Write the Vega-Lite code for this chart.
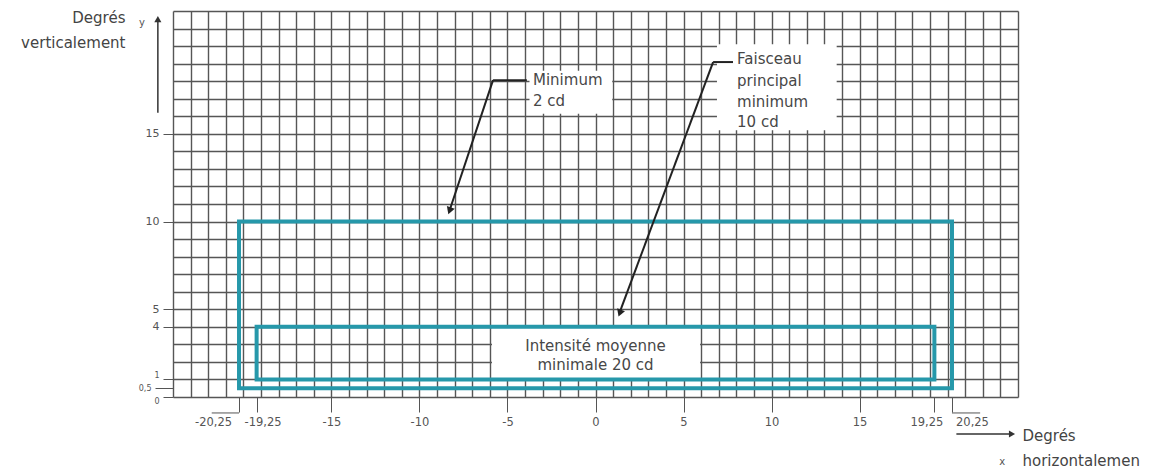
{
  "$schema": "https://vega.github.io/schema/vega-lite/v6.json",
  "width": 845,
  "height": 386,
  "autosize": {"type": "none"},
  "padding": {"left": 173, "top": 11, "right": 143, "bottom": 71},
  "background": "#ffffff",
  "config": {
    "view": {"stroke": null},
    "font": "DejaVu Sans",
    "axis": {"labelFont": "DejaVu Sans", "titleFont": "DejaVu Sans", "labelColor": "#555555", "tickColor": "#555555", "titleColor": "#444444", "titleFontWeight": "normal"}
  },
  "datasets": {
    "zones": [
      {"zone": "outer", "xa": -20.25, "xb": 20.25, "ya": 0.5, "yb": 10},
      {"zone": "inner", "xa": -19.25, "xb": 19.25, "ya": 1, "yb": 4}
    ],
    "boxes": [
      {"box": "Minimum", "xa": -3.75, "xb": 0.95, "ya": 16.15, "yb": 18.6},
      {"box": "Faisceau", "xa": 6.9, "xb": 13.7, "ya": 15.2, "yb": 20.1},
      {"box": "Intensite", "xa": -5.88, "xb": 5.94, "ya": 1, "yb": 4}
    ],
    "segments": [
      {"kind": "leader", "xa": -3.9, "ya": 18.06, "xb": -5.82, "yb": 18.06},
      {"kind": "leader", "xa": -5.82, "ya": 18.06, "xb": -8.3, "yb": 10.6},
      {"kind": "leader", "xa": 7.81, "ya": 19.09, "xb": 6.68, "yb": 19.09},
      {"kind": "leader", "xa": 6.68, "ya": 19.09, "xb": 1.4, "yb": 4.9},
      {"kind": "axis", "xa": -24.86, "ya": 16.2, "xb": -24.86, "yb": 21.5},
      {"kind": "axis", "xa": 20.5, "ya": -2.11, "xb": 23.5, "yb": -2.11},
      {"kind": "bracket", "xa": -21.8, "ya": -0.91, "xb": -20.25, "yb": -0.91},
      {"kind": "bracket", "xa": 20.25, "ya": -0.91, "xb": 21.85, "yb": -0.91}
    ],
    "heads": [
      {"kind": "leader", "x": -8.29, "y": 10.61},
      {"kind": "leader", "x": 1.38, "y": 4.78},
      {"kind": "yaxis", "x": -24.86, "y": 21.54},
      {"kind": "xaxis", "x": 23.66, "y": -2.11}
    ],
    "notes": [
      {"group": "left", "text": "Minimum", "x": -3.55, "y": 18.06},
      {"group": "left", "text": "2 cd", "x": -3.55, "y": 16.86},
      {"group": "left", "text": "Faisceau", "x": 8.04, "y": 19.26},
      {"group": "left", "text": "principal", "x": 8.04, "y": 18.0},
      {"group": "left", "text": "minimum", "x": 8.04, "y": 16.8},
      {"group": "left", "text": "10 cd", "x": 8.04, "y": 15.66},
      {"group": "center", "text": "Intensité moyenne", "x": 0, "y": 2.91},
      {"group": "center", "text": "minimale 20 cd", "x": 0, "y": 1.83},
      {"group": "small", "text": "y", "x": -25.77, "y": 21.3},
      {"group": "small", "text": "x", "x": 23.1, "y": -3.7}
    ]
  },
  "resolve": {"axis": {"x": "independent", "y": "independent"}},
  "layer": [
    {
      "data": {"name": "boxes"},
      "mark": {"type": "rect", "color": "#ffffff"},
      "encoding": {
        "x": {"field": "xa", "type": "quantitative", "scale": {"domain": [-24, 24], "nice": false, "zero": false},
          "axis": {"orient": "bottom", "grid": true, "labels": false, "ticks": false, "domain": false, "title": null, "gridColor": "#565656", "gridWidth": 1.4,
            "values": [-24,-23,-22,-21,-20,-19,-18,-17,-16,-15,-14,-13,-12,-11,-10,-9,-8,-7,-6,-5,-4,-3,-2,-1,0,1,2,3,4,5,6,7,8,9,10,11,12,13,14,15,16,17,18,19,20,21,22,23,24]}},
        "x2": {"field": "xb"},
        "y": {"field": "ya", "type": "quantitative", "scale": {"domain": [0, 22], "nice": false, "zero": false},
          "axis": {"orient": "left", "grid": true, "labels": false, "ticks": false, "domain": false, "title": null, "gridColor": "#565656", "gridWidth": 1.4,
            "values": [0,1,2,3,4,5,6,7,8,9,10,11,12,13,14,15,16,17,18,19,20,21,22]}},
        "y2": {"field": "yb"}
      }
    },
    {
      "data": {"name": "zones"},
      "mark": {"type": "rect", "filled": false, "color": "#2698aa", "strokeWidth": 4, "strokeJoin": "miter"},
      "encoding": {
        "x": {"field": "xa", "type": "quantitative", "scale": {"domain": [-24, 24], "nice": false, "zero": false}, "axis": null},
        "x2": {"field": "xb"},
        "y": {"field": "ya", "type": "quantitative", "scale": {"domain": [0, 22], "nice": false, "zero": false}, "axis": null},
        "y2": {"field": "yb"}
      }
    },
    {
      "data": {"name": "segments"},
      "transform": [{"filter": "datum.kind === 'leader'"}],
      "mark": {"type": "rule", "color": "#222222", "strokeWidth": 2, "clip": false},
      "encoding": {
        "x": {"field": "xa", "type": "quantitative", "scale": {"domain": [-24, 24], "nice": false, "zero": false}, "axis": null},
        "x2": {"field": "xb"},
        "y": {"field": "ya", "type": "quantitative", "scale": {"domain": [0, 22], "nice": false, "zero": false}, "axis": null},
        "y2": {"field": "yb"}
      }
    },
    {
      "data": {"name": "segments"},
      "transform": [{"filter": "datum.kind === 'axis'"}],
      "mark": {"type": "rule", "color": "#333333", "strokeWidth": 1.5, "clip": false},
      "encoding": {
        "x": {"field": "xa", "type": "quantitative", "scale": {"domain": [-24, 24], "nice": false, "zero": false}, "axis": null},
        "x2": {"field": "xb"},
        "y": {"field": "ya", "type": "quantitative", "scale": {"domain": [0, 22], "nice": false, "zero": false}, "axis": null},
        "y2": {"field": "yb"}
      }
    },
    {
      "data": {"name": "segments"},
      "transform": [{"filter": "datum.kind === 'bracket'"}],
      "mark": {"type": "rule", "color": "#555555", "strokeWidth": 1, "clip": false},
      "encoding": {
        "x": {"field": "xa", "type": "quantitative", "scale": {"domain": [-24, 24], "nice": false, "zero": false}, "axis": null},
        "x2": {"field": "xb"},
        "y": {"field": "ya", "type": "quantitative", "scale": {"domain": [0, 22], "nice": false, "zero": false}, "axis": null},
        "y2": {"field": "yb"}
      }
    },
    {
      "data": {"name": "heads"},
      "transform": [{"filter": "datum.kind === 'leader'"}],
      "mark": {"type": "point", "shape": "triangle-up", "filled": true, "color": "#222222", "size": 70, "angle": 200, "opacity": 1, "clip": false},
      "encoding": {
        "x": {"field": "x", "type": "quantitative", "scale": {"domain": [-24, 24], "nice": false, "zero": false}, "axis": null},
        "y": {"field": "y", "type": "quantitative", "scale": {"domain": [0, 22], "nice": false, "zero": false}, "axis": null}
      }
    },
    {
      "data": {"name": "heads"},
      "transform": [{"filter": "datum.kind === 'yaxis'"}],
      "mark": {"type": "point", "shape": "triangle-up", "filled": true, "color": "#333333", "size": 50, "angle": 0, "opacity": 1, "clip": false},
      "encoding": {
        "x": {"field": "x", "type": "quantitative", "scale": {"domain": [-24, 24], "nice": false, "zero": false}, "axis": null},
        "y": {"field": "y", "type": "quantitative", "scale": {"domain": [0, 22], "nice": false, "zero": false}, "axis": null}
      }
    },
    {
      "data": {"name": "heads"},
      "transform": [{"filter": "datum.kind === 'xaxis'"}],
      "mark": {"type": "point", "shape": "triangle-up", "filled": true, "color": "#333333", "size": 50, "angle": 90, "opacity": 1, "clip": false},
      "encoding": {
        "x": {"field": "x", "type": "quantitative", "scale": {"domain": [-24, 24], "nice": false, "zero": false}, "axis": null},
        "y": {"field": "y", "type": "quantitative", "scale": {"domain": [0, 22], "nice": false, "zero": false}, "axis": null}
      }
    },
    {
      "data": {"name": "notes"},
      "transform": [{"filter": "datum.group === 'left'"}],
      "mark": {"type": "text", "align": "left", "baseline": "middle", "font": "DejaVu Sans", "fontSize": 15, "color": "#474747"},
      "encoding": {
        "text": {"field": "text"},
        "x": {"field": "x", "type": "quantitative", "scale": {"domain": [-24, 24], "nice": false, "zero": false},
          "axis": {"orient": "bottom", "grid": false, "domain": false,
            "values": [-20.25, -19.25, -15, -10, -5, 0, 5, 10, 15, 19.25, 20.25],
            "labelExpr": "replace(toString(datum.value), '.', ',')",
            "labelFontSize": 11.5, "labelPadding": 4, "tickSize": 15, "tickWidth": 1, "labelOverlap": false, "labelFlush": false,
            "labelOffset": {"condition": [
              {"test": "datum.value === -20.25", "value": -26},
              {"test": "datum.value === -19.25", "value": 6},
              {"test": "datum.value === 19.25", "value": -8},
              {"test": "datum.value === 20.25", "value": 20}], "value": 0},
            "title": ["Degrés", "horizontalemen"], "titleFontSize": 15, "titleLineHeight": 25, "titleAlign": "left", "titleBaseline": "top", "titleX": 849, "titleY": 31, "titleAnchor": null}},
        "y": {"field": "y", "type": "quantitative", "scale": {"domain": [0, 22], "nice": false, "zero": false},
          "axis": {"orient": "left", "grid": false, "domain": false,
            "values": [0, 0.5, 1, 4, 5, 10, 15],
            "labelExpr": "replace(toString(datum.value), '.', ',')",
            "labelOverlap": false, "labelFlush": false, "labelPadding": 4, "tickWidth": 1,
            "labelFontSize": {"condition": {"test": "datum.value <= 1", "value": 8}, "value": 11},
            "tickSize": {"condition": {"test": "datum.value === 0.5", "value": 18}, "value": 10},
            "labelBaseline": {"condition": [
              {"test": "datum.value === 1", "value": "bottom"},
              {"test": "datum.value === 0", "value": "top"}], "value": "middle"},
            "title": ["Degrés", "verticalement"], "titleFontSize": 15, "titleLineHeight": 25, "titleAngle": 0, "titleAlign": "right", "titleBaseline": "top", "titleX": -48, "titleY": -1, "titleAnchor": null}}
      }
    },
    {
      "data": {"name": "notes"},
      "transform": [{"filter": "datum.group === 'center'"}],
      "mark": {"type": "text", "align": "center", "baseline": "middle", "font": "DejaVu Sans", "fontSize": 15, "color": "#474747"},
      "encoding": {
        "text": {"field": "text"},
        "x": {"field": "x", "type": "quantitative", "scale": {"domain": [-24, 24], "nice": false, "zero": false}, "axis": null},
        "y": {"field": "y", "type": "quantitative", "scale": {"domain": [0, 22], "nice": false, "zero": false}, "axis": null}
      }
    },
    {
      "data": {"name": "notes"},
      "transform": [{"filter": "datum.group === 'small'"}],
      "mark": {"type": "text", "align": "center", "baseline": "middle", "font": "DejaVu Sans", "fontSize": 10, "color": "#555555"},
      "encoding": {
        "text": {"field": "text"},
        "x": {"field": "x", "type": "quantitative", "scale": {"domain": [-24, 24], "nice": false, "zero": false}, "axis": null},
        "y": {"field": "y", "type": "quantitative", "scale": {"domain": [0, 22], "nice": false, "zero": false}, "axis": null}
      }
    }
  ]
}
